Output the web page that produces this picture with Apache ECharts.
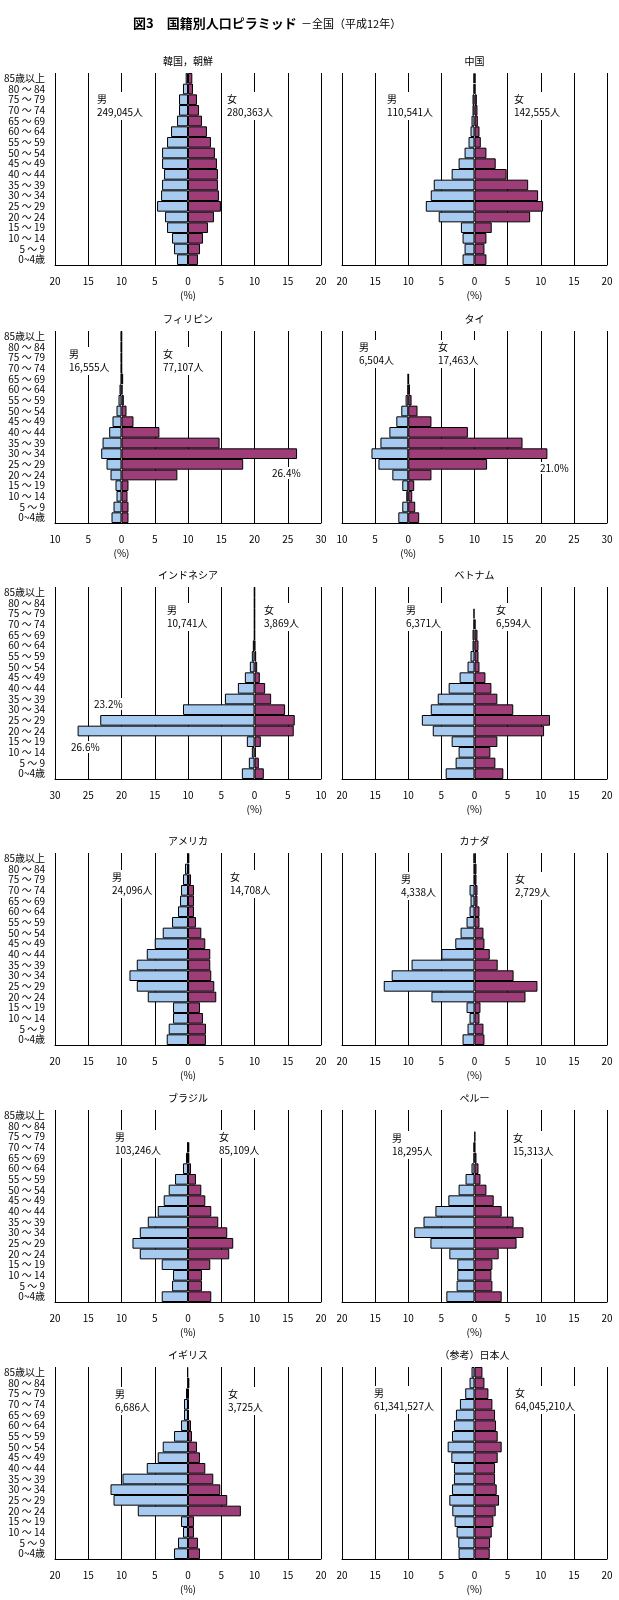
<!DOCTYPE html>
<html><head><meta charset="utf-8">
<script src="https://cdn.jsdelivr.net/npm/echarts@6/dist/echarts.min.js"></script>
<style>html,body{margin:0;padding:0;background:#fff}#c{width:619px;height:1600px}</style>
</head><body><div id="c"></div>
<script>
// Age categories, bottom (0~4) to top (85+)
const ages = ['0~4歳','5 ～ 9','10 ～ 14','15 ～ 19','20 ～ 24','25 ～ 29','30 ～ 34','35 ～ 39','40 ～ 44','45 ～ 49','50 ～ 54','55 ～ 59','60 ～ 64','65 ～ 69','70 ～ 74','75 ～ 79','80 ～ 84','85歳以上'];

// Shares (%) by age, bottom to top
const koreaMale   = [1.65,2.1,2.4,3.15,3.45,4.65,4.05,3.9,3.6,3.9,3.9,3.15,2.55,1.65,1.35,1.35,0.75,0.35];
const koreaFemale = [1.5,1.8,2.25,3.0,3.9,4.95,4.65,4.5,4.5,4.35,4.05,3.45,2.85,2.1,1.65,1.35,0.75,0.65];
const chinaMale   = [1.8,1.5,1.8,2.05,5.4,7.35,6.6,6.15,3.45,2.4,1.5,0.9,0.6,0.45,0.3,0.3,0.15,0.15];
const chinaFemale = [1.8,1.5,1.8,2.6,8.4,10.35,9.6,8.1,4.85,3.2,1.8,0.95,0.75,0.5,0.45,0.35,0.15,0.15];
const philMale    = [1.5,1.2,0.75,0.9,1.65,2.25,3.05,2.85,1.85,1.35,0.75,0.45,0.3,0.1,0.1,0.1,0.1,0.1];
const philFemale  = [1.05,1.05,0.9,1.05,8.4,18.3,26.4,14.75,5.7,1.8,0.75,0.35,0.15,0.25,0.05,0.05,0.05,0.05];
const thaiMale    = [1.5,0.9,0.3,0.9,2.4,4.5,5.55,4.2,2.85,1.8,1.05,0.4,0.1,0.05,0,0,0,0];
const thaiFemale  = [1.65,1.05,0.6,0.9,3.5,11.9,21.0,17.25,9.0,3.5,1.4,0.5,0.25,0.1,0,0,0,0];
const indoMale    = [1.9,0.85,0.4,1.15,26.6,23.2,10.75,4.45,2.5,1.45,0.7,0.4,0.25,0.05,0.05,0.05,0.05,0.05];
const indoFemale  = [1.4,0.65,0.2,0.95,5.9,6.05,4.6,2.5,1.6,0.8,0.4,0.25,0.1,0.05,0.05,0.05,0.05,0.05];
const vietMale    = [4.35,2.85,2.4,3.45,6.3,7.95,6.6,5.55,3.9,2.25,1.05,0.6,0.3,0.3,0.15,0.15,0,0];
const vietFemale  = [4.35,3.15,2.4,3.45,10.5,11.4,5.85,3.45,2.55,1.65,0.75,0.6,0.6,0.45,0.15,0,0,0];
const usaMale     = [3.2,2.9,2.25,2.25,6.05,7.7,8.8,7.7,6.2,5.0,3.8,2.4,1.5,1.2,1.05,0.75,0.45,0.15];
const usaFemale   = [2.7,2.7,2.25,1.8,4.25,3.95,3.5,3.35,3.35,2.6,2.0,1.2,0.9,0.9,0.9,0.45,0.2,0.2];
const canMale     = [1.8,1.05,0.75,1.2,6.5,13.7,12.5,9.5,5.0,2.9,2.1,1.2,0.75,0.6,0.75,0.1,0.1,0.15];
const canFemale   = [1.5,1.35,0.75,0.9,7.7,9.5,5.9,3.5,2.3,1.5,1.35,0.75,0.75,0.45,0.45,0.3,0.3,0.2];
const braMale     = [3.95,2.4,2.25,3.95,7.25,8.35,7.25,6.05,4.55,3.65,2.9,1.95,0.75,0.3,0.1,0,0,0];
const braFemale   = [3.5,2.1,2.1,3.35,6.2,6.8,5.9,4.55,3.5,2.6,2.0,1.2,0.45,0.2,0.2,0,0,0];
const peruMale    = [4.25,2.7,2.6,2.6,3.8,6.65,9.1,7.7,5.9,3.95,2.4,1.35,0.45,0.15,0.15,0,0,0];
const peruFemale  = [4.1,2.7,2.55,2.7,3.65,6.35,7.4,5.9,4.1,2.9,1.8,0.9,0.6,0.3,0.1,0.1,0,0];
const ukMale      = [2.1,1.5,0.75,1.05,7.55,11.2,11.65,9.85,6.2,4.55,3.8,2.1,1.05,0.6,0.6,0.3,0.05,0.1];
const ukFemale    = [1.8,1.5,0.9,0.9,7.95,5.9,4.85,3.8,2.6,1.8,1.35,0.6,0.45,0.15,0.15,0.15,0.2,0];
const japanMale   = [2.4,2.45,2.7,3.0,3.35,3.8,3.4,3.1,3.1,3.5,4.05,3.4,3.1,2.8,2.2,1.4,0.75,0.45];
const japanFemale = [2.3,2.35,2.6,2.85,3.2,3.7,3.35,3.1,3.1,3.5,4.1,3.5,3.25,3.1,2.7,2.1,1.5,1.2];

const panelNames   = ['韓国，朝鮮','中国','フィリピン','タイ','インドネシア','ベトナム','アメリカ','カナダ','ブラジル','ペルー','イギリス','（参考）日本人'];
const maleTotals   = ['249,045人','110,541人','16,555人','6,504人','10,741人','6,371人','24,096人','4,338人','103,246人','18,295人','6,686人','61,341,527人'];
const femaleTotals = ['280,363人','142,555人','77,107人','17,463人','3,869人','6,594人','14,708人','2,729人','85,109人','15,313人','3,725人','64,045,210人'];
const axisMins = [-20,-20,-10,-10,-30,-20,-20,-20,-20,-20,-20,-20];
const axisMaxs = [20,20,30,30,10,20,20,20,20,20,20,20];
const maleData   = [koreaMale,chinaMale,philMale,thaiMale,indoMale,vietMale,usaMale,canMale,braMale,peruMale,ukMale,japanMale];
const femaleData = [koreaFemale,chinaFemale,philFemale,thaiFemale,indoFemale,vietFemale,usaFemale,canFemale,braFemale,peruFemale,ukFemale,japanFemale];
const peakNotes = [
  {panel:2, text:'26.4%'}, {panel:3, text:'21.0%'}, {panel:4, text:'23.2%'}, {panel:4, text:'26.6%'}
];

// ---- layout (pixels) ----
const FONT = '"Noto Sans CJK JP", "Noto Sans", sans-serif';
const colLeft = [55, 342], colWidth = [266, 265];
const rowTop = [73, 331, 587, 853, 1110, 1367], plotH = 192;
const sexLabelPos = [[97,100,227,100],[387,100,514,100],[69,355,163,355],[359,348,438,348],
  [167,611,264,611],[406,611,496,611],[112,878,230,878],[401,880,515,880],
  [115,1138,219,1138],[392,1139,513,1139],[115,1395,228,1395],[374,1394,515,1394]];
const notePos = [[272,473],[540,468],[94,704],[71,747]];
const MALE_C = '#A6CAF0', FEMALE_C = '#9E3D78';

const grids = [], xAxes = [], yAxes = [], series = [], graphics = [];
for (let i = 0; i < 12; i++) {
  const col = i % 2, row = Math.floor(i / 2);
  grids.push({left: colLeft[col], top: rowTop[row], width: colWidth[col], height: plotH});
  const min = axisMins[i], max = axisMaxs[i];
  const n = (max - min) / 5 + 1, zi = (0 - min) / 5;
  const cols = [];
  for (let k = 0; k < n; k++) cols.push(k === zi ? 'rgba(0,0,0,0)' : '#000');
  xAxes.push({gridIndex: i, type: 'value', min, max, interval: 5,
    axisLine: {show: true, onZero: false, lineStyle: {color: '#000', width: 1}},
    axisTick: {show: false},
    splitLine: {show: true, lineStyle: {color: cols, width: 1}},
    axisLabel: {color: '#000', fontSize: 10, fontFamily: FONT, margin: 11, formatter: v => String(Math.abs(v))}
  });
  yAxes.push({gridIndex: i, type: 'category', data: ages,
    axisLine: {show: false, onZero: false}, axisTick: {show: false}, splitLine: {show: false},
    axisLabel: {show: col === 0, color: '#000', fontSize: 10, fontFamily: FONT, margin: 10, interval: 0}
  });
  series.push({type: 'bar', xAxisIndex: i, yAxisIndex: i, barGap: '-100%', barCategoryGap: '0%',
    data: maleData[i].map(v => v === 0 ? null : -v), silent: true, z: 3,
    itemStyle: {color: MALE_C, borderColor: '#000', borderWidth: 1}});
  series.push({type: 'bar', xAxisIndex: i, yAxisIndex: i, barGap: '-100%', barCategoryGap: '0%',
    data: femaleData[i].map(v => v === 0 ? null : v), silent: true, z: 3,
    itemStyle: {color: FEMALE_C, borderColor: '#000', borderWidth: 1}});
  // panel title
  graphics.push({type: 'text', x: colLeft[col] + colWidth[col] / 2, y: rowTop[row] - 12, z: 100,
    style: {text: panelNames[i], textAlign: 'center', textVerticalAlign: 'middle', fill: '#000', font: '10px ' + FONT}});
  const p = sexLabelPos[i];
  graphics.push({type: 'text', x: p[0] - 2, y: p[1] - 8, z: 100,
    style: {text: '男\n' + maleTotals[i], fill: '#000', font: '10px ' + FONT, lineHeight: 13, backgroundColor: '#fff', padding: [1, 2]}});
  graphics.push({type: 'text', x: p[2] - 2, y: p[3] - 8, z: 100,
    style: {text: '女\n' + femaleTotals[i], fill: '#000', font: '10px ' + FONT, lineHeight: 13, backgroundColor: '#fff', padding: [1, 2]}});
}
peakNotes.forEach((n, k) => {
  graphics.push({type: 'text', x: notePos[k][0] - 1, y: notePos[k][1], z: 100,
    style: {text: n.text, textVerticalAlign: 'middle', fill: '#000', font: '10px ' + FONT, backgroundColor: '#fff', padding: [1, 1]}});
});
graphics.push({type: 'text', x: 133, y: 23, z: 100,
  style: {text: '図3　国籍別人口ピラミッド', textVerticalAlign: 'middle', fill: '#000', font: 'bold 13px ' + FONT}});
graphics.push({type: 'text', x: 301, y: 24, z: 100,
  style: {text: '－全国（平成12年）', textVerticalAlign: 'middle', fill: '#000', font: '11px ' + FONT}});

const chart = echarts.init(document.getElementById('c'), null, {renderer: 'canvas'});
chart.setOption({animation: false, backgroundColor: '#fff', grid: grids, xAxis: xAxes, yAxis: yAxes, series, graphic: graphics});

// "(%)" unit label under each axis's zero
const unitLabels = [];
for (let i = 0; i < 12; i++) {
  const row = Math.floor(i / 2);
  const zx = chart.convertToPixel({xAxisIndex: i}, 0);
  unitLabels.push({type: 'text', x: zx, y: rowTop[row] + plotH + 30, z: 100,
    style: {text: '(%)', textAlign: 'center', textVerticalAlign: 'middle', fill: '#000', font: '10px ' + FONT}});
}
chart.setOption({graphic: graphics.concat(unitLabels)});
</script>
</body></html>
